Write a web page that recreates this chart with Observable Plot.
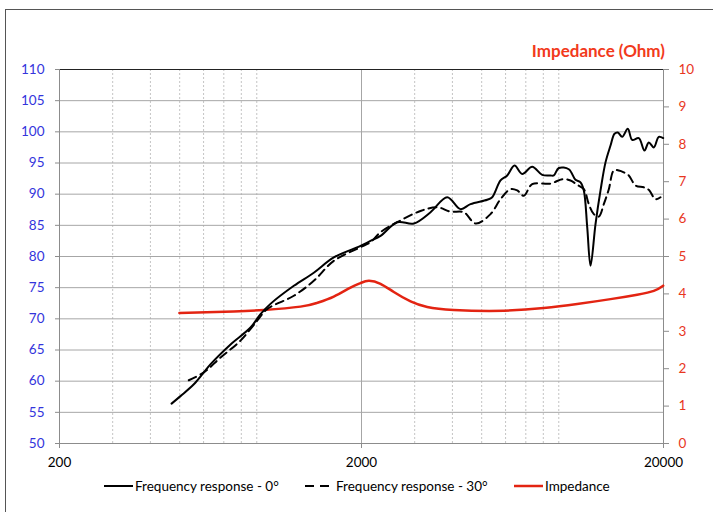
<!DOCTYPE html>
<html>
<head>
<meta charset="utf-8">
<script src="https://cdn.jsdelivr.net/npm/d3@7"></script>
<script src="https://cdn.jsdelivr.net/npm/@observablehq/plot@0.6"></script>
<style>
  html, body { margin: 0; padding: 0; background: #fff; overflow: hidden; width: 713px; height: 512px; }
  #wrap { position: relative; width: 713px; height: 512px; font-family: Lato, "Noto Sans", sans-serif; }
  #frame { position: absolute; left: 5px; top: 9px; width: 800px; height: 600px; border: 1px solid #555; box-sizing: border-box; pointer-events: none; }
  #chart { position: absolute; left: 0; top: 0; }
  #title { position: absolute; right: 48px; top: 40px; font-weight: bold; font-size: 17px; color: #f23a1c; white-space: nowrap; }
  .leg { position: absolute; top: 478px; font-size: 13.5px; color: #000; display: flex; align-items: center; white-space: nowrap; }
  .leg svg { margin-right: 2px; }
</style>
</head>
<body>
<div id="wrap">
  <div id="frame"></div>
  <div id="chart"></div>
  <div id="title">Impedance (Ohm)</div>
  <div class="leg" style="left:104px"><svg width="29" height="4"><line x1="0" y1="2" x2="29" y2="2" stroke="#000" stroke-width="2"/></svg>Frequency response - 0°</div>
  <div class="leg" style="left:305px"><svg width="29" height="4"><line x1="0" y1="2" x2="29" y2="2" stroke="#000" stroke-width="2" stroke-dasharray="9,6"/></svg>Frequency response - 30°</div>
  <div class="leg" style="left:514px"><svg width="29" height="4"><line x1="0" y1="2" x2="29" y2="2" stroke="#e32412" stroke-width="2.5"/></svg>Impedance</div>
</div>
<script>
// Frequency response 0°
const freq0 = [470, 503, 557, 601, 632, 737, 858, 926, 999, 1194, 1390, 1619, 1985, 2142, 2312, 2626, 2981, 3386, 3844, 4255, 4592, 5216, 5418, 5772, 6075, 6422, 6811, 7349, 7931, 8452, 8668, 9004, 9716, 10225, 10622, 10894, 11180, 11466, 11910, 12373, 12853, 13354, 13767, 14118, 14596, 15235, 15750, 16565, 17300, 17878, 18576, 19294, 19954];
const spl0  = [56.4, 57.6, 59.5, 61.4, 62.7, 65.9, 68.6, 70.75, 72.4, 75.3, 77.4, 79.85, 81.7, 82.5, 83.3, 85.5, 85.3, 87.1, 89.5, 87.6, 88.4, 89.1, 89.5, 92.2, 93.0, 94.6, 93.25, 94.4, 93.1, 93.0, 93.0, 94.2, 94.0, 92.3, 91.9, 90.6, 84.7, 78.5, 85.2, 90.6, 95.1, 97.8, 99.7, 99.9, 99.2, 100.5, 98.7, 99.0, 97.0, 98.3, 97.5, 99.2, 99.0];

// Frequency response 30°
const freq30 = [536, 601, 683, 795, 903, 974, 1194, 1390, 1619, 1985, 2142, 2312, 2626, 3136, 3563, 3942, 4364, 4771, 5348, 5772, 6230, 6556, 6894, 7349, 8452, 9240, 9842, 10357, 10894, 11318, 11757, 12214, 12687, 13183, 13694, 14225, 14776, 15350, 16154, 17208, 17878, 18816, 19548];
const spl30  = [60.15, 61.4, 63.8, 66.5, 69.7, 71.55, 73.7, 76.1, 79.3, 81.5, 82.3, 83.9, 85.5, 87.3, 87.9, 87.2, 87.1, 85.3, 86.8, 89.2, 90.8, 90.6, 89.75, 91.6, 91.7, 92.4, 92.2, 91.5, 90.8, 88.4, 86.8, 86.4, 88.4, 90.8, 93.8, 93.8, 93.5, 93.0, 91.4, 91.1, 90.7, 89.2, 89.5];

// Impedance (Ohm)
const freqZ = [499, 755, 950, 1256, 1427, 1619, 1839, 1985, 2115, 2312, 2559, 2907, 3301, 4042, 5918, 8028, 10357, 13354, 16366, 18576, 19954];
const imp   = [3.49, 3.53, 3.57, 3.66, 3.76, 3.93, 4.17, 4.29, 4.35, 4.27, 4.05, 3.80, 3.65, 3.57, 3.55, 3.62, 3.73, 3.86, 3.98, 4.08, 4.22];

// Axes
const leftTicks = [50, 55, 60, 65, 70, 75, 80, 85, 90, 95, 100, 105, 110];
const rightTicks = [0, 1, 2, 3, 4, 5, 6, 7, 8, 9, 10];
const xTicks = [200, 2000, 20000];
const minorX = [300, 400, 500, 600, 700, 800, 900, 3000, 4000, 5000, 6000, 7000, 8000, 9000];

// Impedance 0..10 shares the SPL 50..110 frame
const impToLeft = z => 50 + z * 6;
const leftToImp = v => Math.round((v - 50) / 6);

const d0 = freq0.map((f, i) => ({f, v: spl0[i]}));
const d30 = freq30.map((f, i) => ({f, v: spl30[i]}));
const dZ = freqZ.map((f, i) => ({f, z: imp[i]}));

const chart = Plot.plot({
  width: 713,
  height: 476,
  marginLeft: 59,
  marginRight: 50,
  marginTop: 69,
  marginBottom: 33,
  style: {fontFamily: "Lato, 'Noto Sans', sans-serif", fontSize: "13.5px", background: "transparent", overflow: "visible"},
  x: {type: "log", domain: [200, 20000]},
  y: {domain: [50, 110]},
  marks: [
    Plot.ruleX(minorX, {stroke: "#c4c4c4", strokeDasharray: "2,2"}),
    Plot.ruleX([2000], {stroke: "#a6a6a6"}),
    Plot.ruleY(leftTicks, {stroke: "#a6a6a6"}),
    Plot.ruleY([110], {stroke: "#222"}),
    Plot.ruleY([50], {stroke: "#8c8c8c"}),
    Plot.ruleX([200], {stroke: "#8c8c8c"}),
    Plot.ruleX([20000], {stroke: "#8c8c8c"}),
    Plot.axisY(leftTicks, {anchor: "left", tickSize: 4, tickPadding: 11, label: null, stroke: "#8c8c8c", fill: "#3434dc"}),
    Plot.axisY(rightTicks.map(impToLeft), {anchor: "right", tickSize: 5, tickPadding: 10, label: null, tickFormat: leftToImp, stroke: "#8c8c8c", fill: "#e8361e"}),
    Plot.axisX(xTicks, {tickSize: 5, tickPadding: 9, label: null, tickFormat: d => String(d), stroke: "#8c8c8c", fill: "#000"}),
    Plot.line(dZ, {x: "f", y: d => impToLeft(d.z), stroke: "#e32412", strokeWidth: 2.5, curve: "natural"}),
    Plot.line(d30, {x: "f", y: "v", stroke: "#000", strokeWidth: 2, strokeDasharray: "8,5", curve: "catmull-rom"}),
    Plot.line(d0, {x: "f", y: "v", stroke: "#000", strokeWidth: 2, curve: "catmull-rom"})
  ]
});
document.getElementById("chart").appendChild(chart);
</script>
</body>
</html>
